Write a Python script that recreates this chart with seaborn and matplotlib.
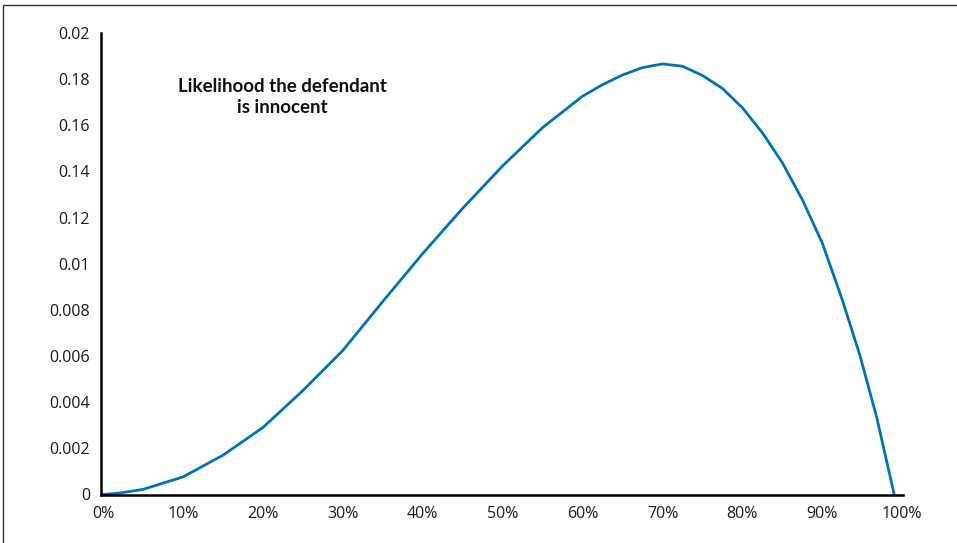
import matplotlib
matplotlib.use("Agg")
import matplotlib.pyplot as plt
import numpy as np
import pandas as pd
import seaborn as sns
from matplotlib.patches import Rectangle

# share of guilt (%) and likelihood values
pct = [0, 2, 5, 10, 15, 20, 25, 30, 35, 40, 45, 50, 55, 60, 62.5, 65, 67.5,
       70, 72.5, 75, 77.5, 80, 82.5, 85, 87.5, 90, 92.5, 94.7, 96.8, 99]
likelihood = [0, 0.00006, 0.00022, 0.00076, 0.0017, 0.0029, 0.0045, 0.00624,
              0.00836, 0.01044, 0.0124, 0.01424, 0.0159, 0.01726, 0.01776,
              0.01818, 0.0185, 0.01866, 0.01856, 0.01816, 0.0176, 0.01676,
              0.01568, 0.01438, 0.01278, 0.0109, 0.00844, 0.00604, 0.00336, 0]

x_ticks = [0, 10, 20, 30, 40, 50, 60, 70, 80, 90, 100]
x_labels = ["0%", "10%", "20%", "30%", "40%", "50%", "60%", "70%", "80%", "90%", "100%"]
y_ticks = [0, 0.002, 0.004, 0.006, 0.008, 0.01, 0.012, 0.014, 0.016, 0.018, 0.02]
y_labels = ["0", "0.002", "0.004", "0.006", "0.008", "0.01", "0.12", "0.14", "0.16", "0.18", "0.02"]

df = pd.DataFrame({"pct": pct, "likelihood": likelihood})

sns.set_style("white")
plt.rcParams['font.family'] = ['Open Sans', 'DejaVu Sans']

fig = plt.figure(figsize=(9.57, 5.43), dpi=100)
ax = fig.add_axes([101 / 957, 48.5 / 543, 802 / 957, 461.5 / 543])

sns.lineplot(data=df, x="pct", y="likelihood", color="#0072bd", linewidth=2,
             ax=ax, solid_joinstyle="round")

ax.set_xlim(-0.25, 100.1)
ax.set_ylim(0, 0.02)
ax.set_xticks(x_ticks)
ax.set_xticklabels(x_labels, fontsize=11.5, color="#1a1a1a")
ax.set_yticks(y_ticks)
ax.set_yticklabels(y_labels, fontsize=11.5, color="#1a1a1a")
ax.tick_params(length=0, pad=8)
ax.set_xlabel("")
ax.set_ylabel("")

sns.despine(ax=ax)
for s in ["left", "bottom"]:
    ax.spines[s].set_color("black")
    ax.spines[s].set_linewidth(1.8)

ax.text(0.226, 0.862, "Likelihood the defendant\nis innocent", transform=ax.transAxes,
        ha="center", va="center", fontsize=13.5, fontweight="bold",
        family=['Lato', 'DejaVu Sans'], linespacing=1.3, color="#111111")

# thin frame around the figure
fig.add_artist(Rectangle((3 / 957, -0.1), 1.2, 1.1 - 5 / 543, transform=fig.transFigure,
                         fill=False, edgecolor="#333333", linewidth=1))

fig.savefig("out.png", dpi=100)
